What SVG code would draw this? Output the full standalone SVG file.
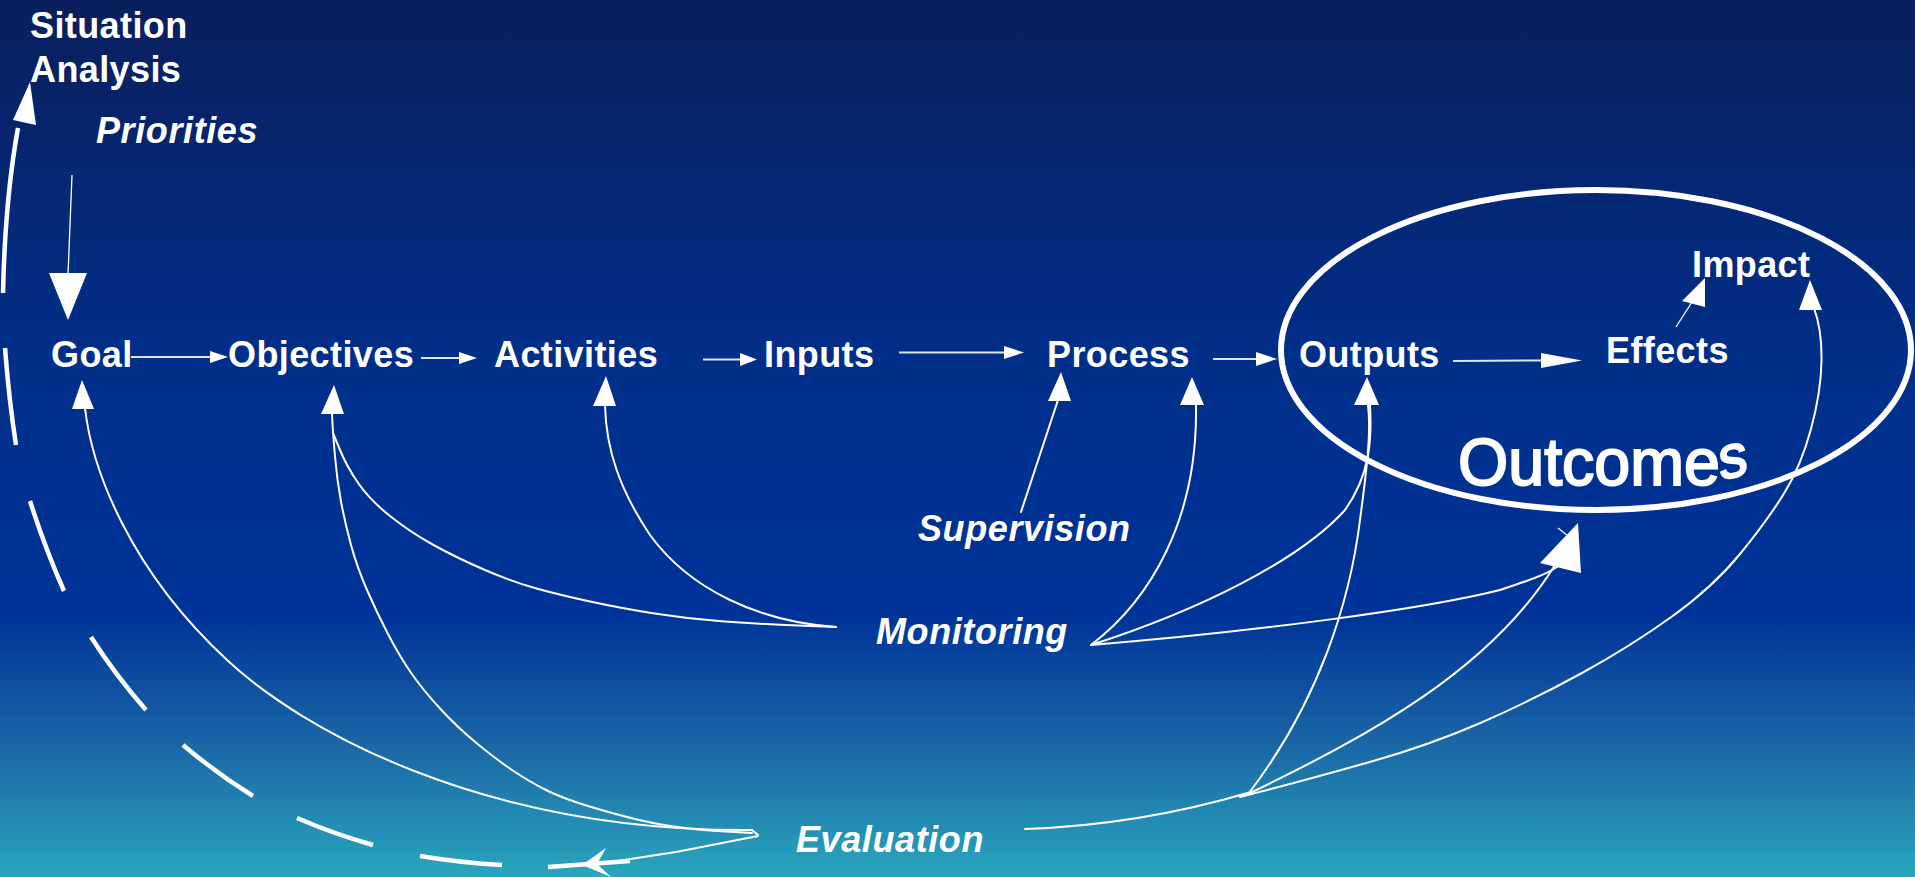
<svg xmlns="http://www.w3.org/2000/svg" width="1915" height="877" viewBox="0 0 1915 877">
<defs>
<linearGradient id="bg" x1="0" y1="0" x2="0" y2="1">
<stop offset="0" stop-color="#0a1f5c"/>
<stop offset="0.4" stop-color="#012e88"/>
<stop offset="0.7" stop-color="#003399"/>
<stop offset="0.85" stop-color="#1a67a6"/>
<stop offset="1" stop-color="#2aa6bd"/>
</linearGradient>
<style>
.lbl{font-family:"Liberation Sans",Arial,sans-serif;font-weight:bold;font-size:36px;fill:#fff;letter-spacing:0.4px}
.it{font-style:italic;letter-spacing:0.6px}
.c{fill:none;stroke:#fff;stroke-width:2;stroke-linecap:round;stroke-linejoin:round}
.t{fill:none;stroke:#fff;stroke-width:1.3}
.row{fill:none;stroke:#dfe5f3;stroke-width:2}
.dash{fill:none;stroke:#fff;stroke-width:4.5}
.ah{fill:#fff}
.oc{font-family:"Liberation Sans",Arial,sans-serif;fill:#fff;stroke:#fff;stroke-width:2}
</style>
</defs>
<rect width="1915" height="877" fill="url(#bg)"/>

<g id="situation-analysis"><text class="lbl" x="30" y="38">Situation</text><text class="lbl" x="30" y="82">Analysis</text></g>
<g id="priorities"><text class="lbl it" x="96" y="143">Priorities</text></g>
<g id="goal"><text class="lbl" x="51" y="367">Goal</text></g>
<g id="objectives"><text class="lbl" x="228" y="367">Objectives</text></g>
<g id="activities"><text class="lbl" x="494" y="367">Activities</text></g>
<g id="inputs"><text class="lbl" x="764" y="367">Inputs</text></g>
<g id="process"><text class="lbl" x="1047" y="367">Process</text></g>
<g id="outputs"><text class="lbl" x="1299" y="367">Outputs</text></g>
<g id="effects"><text class="lbl" x="1606" y="363">Effects</text></g>
<g id="impact"><text class="lbl" x="1692" y="277">Impact</text></g>
<g id="outcomes">
<ellipse cx="1596" cy="350" rx="315" ry="160" fill="none" stroke="#fff" stroke-width="6"/>
<text class="oc" x="1458" y="485" font-size="66" textLength="262" lengthAdjust="spacingAndGlyphs">Outcome</text>
<text class="oc" x="0" y="0" font-size="60" transform="translate(1720 480) rotate(-12) skewX(-8)" textLength="29" lengthAdjust="spacingAndGlyphs">s</text>
</g>
<g id="supervision"><text class="lbl it" x="918" y="541">Supervision</text></g>
<g id="monitoring"><text class="lbl it" x="876" y="644">Monitoring</text></g>
<g id="evaluation"><text class="lbl it" x="796" y="852">Evaluation</text></g>

<g id="connectors">
<!-- row arrows -->
<line class="row" x1="131" y1="357" x2="212" y2="357"/><polygon class="ah" points="210,351 228,357 210,363"/>
<line class="row" x1="421" y1="358" x2="461" y2="358"/><polygon class="ah" points="459,352 477,358 459,364"/>
<line class="row" x1="703" y1="359.5" x2="742" y2="359.5" stroke-width="3" stroke="#fff"/><polygon class="ah" points="740,353 757,359.5 740,366"/>
<line class="row" x1="899" y1="352.5" x2="1006" y2="352.5"/><polygon class="ah" points="1004,346 1024,352.5 1004,359"/>
<line class="row" x1="1213" y1="359" x2="1258" y2="359"/><polygon class="ah" points="1256,352 1277,359 1256,366"/>
<line class="row" x1="1453" y1="361" x2="1543" y2="360.5" stroke-width="3" stroke="#fff"/><polygon class="ah" points="1541,353 1582,360.5 1541,368"/>
<line class="t" x1="1676" y1="327" x2="1692" y2="302"/><polygon class="ah" points="1705,278 1682,301 1705,307"/>

<!-- priorities to goal -->
<line class="t" x1="72" y1="175" x2="68" y2="275" stroke-width="1"/><polygon class="ah" points="49,273 87,273 68,320"/>

<!-- situation analysis loop -->
<path class="dash" d="M3,293 Q5,200 18,128"/><polygon class="ah" points="30,82 13,120 36,125"/>
<path class="dash" d="M5,348 Q9,400 16,445"/>
<path class="dash" d="M30,501 Q45,548 64,591"/>
<path class="dash" d="M91,637 Q116,676 146,710"/>
<path class="dash" d="M183,745 Q216,773 253,796"/>
<path class="dash" d="M297,818 Q334,834 373,845"/>
<path class="dash" d="M420,856 Q462,863 502,865"/>
<path class="dash" d="M548,867 L630,861"/>

<!-- evaluation to the left -->
<path class="c" d="M752,830 L758,835"/>
<path class="c" stroke-width="4" d="M758,836 L676,852"/>
<path class="c" stroke-width="2.5" d="M676,852 L598,864"/>
<polygon class="ah" points="582,865 606,848 597,864 611,877"/>

<!-- evaluation to goal and objectives -->
<path class="c" d="M752,830 C480,832 300,728 227,660 C130,570 92,470 85,408"/>
<polygon class="ah" points="82,380 72,409 94,409"/>
<path class="c" d="M752,833 L726,831.5 Q700,830 677,827 Q654,824 627,817 Q600,810 580,803.5 Q560,797 545,789.5 Q530,782 513.5,771 Q497,760 477,743.5 Q457,727 440,708.5 Q423,690 411.5,673.5 Q400,657 388.5,635 Q377,613 367,590 Q357,567 351,545 Q345,523 341,501.5 Q337,480 335,456.5 Q333,433 332.5,424 L332,413"/>
<polygon class="ah" points="334,385 321,414 344,414"/>

<!-- monitoring to objectives and activities -->
<path class="c" d="M836,627 L798,625.5 Q760,624 724.5,621.5 Q689,619 654.5,613.5 Q620,608 590,601.5 Q560,595 536.5,588.5 Q513,582 485,570 Q457,558 433.5,545 Q410,532 390,516 Q370,500 358.5,483.5 Q347,467 340,450 L333,433"/>
<path class="c" d="M836,627 C760,622 690,590 650,535 C620,490 606,450 605,405"/>
<polygon class="ah" points="606,376 593,406 616,406"/>

<!-- supervision to process -->
<line class="c" x1="1021" y1="512" x2="1058" y2="400" stroke-width="1.5"/>
<polygon class="ah" points="1061,372 1048,401 1071,401"/>

<!-- monitoring to process, outputs, outcomes -->
<path class="c" d="M1091,645 C1150,600 1198,520 1196,405"/>
<polygon class="ah" points="1192,377 1180,405 1204,405"/>
<path class="c" d="M1091,645 C1200,610 1300,560 1345,510 C1370,475 1372,440 1370,405"/>
<polygon class="ah" points="1367,377 1354,405 1379,405"/>
<path class="c" d="M1091,645 C1250,632 1420,610 1500,590 C1530,580 1545,575 1557,567"/>
<polygon class="ah" points="1578,523 1540,563 1581,573"/>
<line class="t" x1="1558" y1="528" x2="1568" y2="536"/>

<!-- evaluation to outputs, outcomes, impact -->
<path class="c" d="M1025,829 Q1140,825 1251,792"/>
<path class="c" stroke-width="1.5" d="M1249,793 C1320,700 1350,600 1360,520 C1368,460 1371,430 1368,405"/>
<path class="c" stroke-width="3" d="M1250,793 C1370,735 1490,670 1555,565"/>
<path class="c" stroke-width="1.5" d="M1240,797 L1276.5,787.5 Q1313,778 1371.5,761.5 Q1430,745 1481.5,722.5 Q1533,700 1582,673 Q1631,646 1672,616.5 Q1713,587 1740,554 Q1767,521 1784,493.5 Q1801,466 1811,429 Q1821,392 1821.5,361 Q1822,330 1814,308"/>
<polygon class="ah" points="1810,280 1799,310 1822,310"/>
</g>
</svg>
